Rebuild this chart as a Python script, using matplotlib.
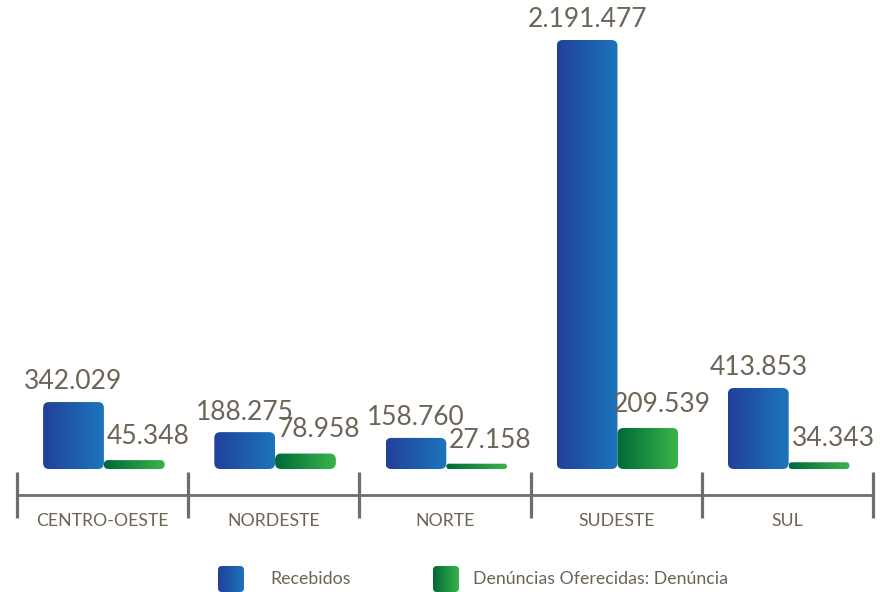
import numpy as np
import matplotlib
matplotlib.use("Agg")
import matplotlib.pyplot as plt
from matplotlib.patches import FancyBboxPatch
from matplotlib.colors import LinearSegmentedColormap

categories = ["CENTRO-OESTE", "NORDESTE", "NORTE", "SUDESTE", "SUL"]
series_names = ["Recebidos", "Denúncias Oferecidas: Denúncia"]
recebidos = [342029, 188275, 158760, 2191477, 413853]
denuncias = [45348, 78958, 27158, 209539, 34343]
value_labels_rec = ["342.029", "188.275", "158.760", "2.191.477", "413.853"]
value_labels_den = ["45.348", "78.958", "27.158", "209.539", "34.343"]

plt.rcParams['font.family'] = ['Lato', 'DejaVu Sans']
TEXT = '#6d6357'
AXC = '#6d6e70'
blue_cmap = LinearSegmentedColormap.from_list('b', ['#22409a', '#1c75bc'])
green_cmap = LinearSegmentedColormap.from_list('g', ['#006838', '#39b54a'])

W, H = 880, 592
fig = plt.figure(figsize=(W / 100, H / 100), dpi=100)
ax = fig.add_axes([17 / W, (H - 495) / H, 856 / W, (495 - 40) / H])

x = np.arange(len(categories))
bw = 0.355
off_b, off_g = -0.17, 0.185
ymax = 2191477
per_px = ymax / 429.0
ylo = -26 * per_px
ax.set_xlim(-0.5, 4.5)
ax.set_ylim(ylo, ymax)

bars_b = ax.bar(x + off_b, recebidos, bw, color='none')
bars_g = ax.bar(x + off_g, denuncias, bw, color='none')

x_per_px = 5.0 / 856
grad = np.linspace(0, 1, 256).reshape(1, -1)


def gradient_bar(rect, cmap):
    x0, y0 = rect.get_x(), rect.get_y()
    w, h = rect.get_width(), rect.get_height()
    h_px = h / per_px
    r_px = min(6.0, h_px / 2.0)
    pad = r_px * x_per_px
    aspect = per_px / x_per_px
    patch = FancyBboxPatch((x0 + pad, y0 + pad * aspect), w - 2 * pad, h - 2 * pad * aspect,
                           boxstyle=f"round,pad={pad},rounding_size={pad}",
                           mutation_aspect=aspect, facecolor='none', edgecolor='none')
    ax.add_patch(patch)
    im = ax.imshow(grad, cmap=cmap, aspect='auto', extent=(x0, x0 + w, y0, y0 + h),
                   interpolation='bilinear', zorder=2)
    im.set_clip_path(patch)


for r in bars_b:
    gradient_bar(r, blue_cmap)
for r in bars_g:
    gradient_bar(r, green_cmap)

ax.set_xlim(-0.5, 4.5)
ax.set_ylim(ylo, ymax)

for i in range(len(categories)):
    ax.annotate(value_labels_rec[i], (x[i] + off_b, recebidos[i]), xytext=(0, 5.5),
                textcoords='offset points', ha='center', va='bottom', fontsize=19,
                color=TEXT, annotation_clip=False)
    ax.annotate(value_labels_den[i], (x[i] + off_g, denuncias[i]), xytext=(10, 8),
                textcoords='offset points', ha='center', va='bottom', fontsize=19,
                color=TEXT, annotation_clip=False)

for s in ['top', 'right', 'left']:
    ax.spines[s].set_visible(False)
ax.spines['bottom'].set_color(AXC)
ax.spines['bottom'].set_linewidth(2.0)
ax.spines['bottom'].set_position(('data', ylo))
ax.set_yticks([])
ax.set_xticks(np.arange(-0.5, 5.0, 1.0))
ax.set_xticklabels([])
ax.tick_params(axis='x', which='major', direction='inout', length=33, width=2.3, color=AXC)
ax.set_xticks(x, minor=True)
ax.set_xticklabels(categories, minor=True)
ax.tick_params(axis='x', which='minor', length=0, pad=13, labelsize=12.7, labelcolor=TEXT)
ax.patch.set_visible(False)


def legend_swatch(px, py, size, cmap):
    sax = fig.add_axes([px / W, (H - py - size) / H, size / W, size / H])
    sax.set_axis_off()
    sax.set_xlim(0, 1)
    sax.set_ylim(0, 1)
    p = FancyBboxPatch((0.12, 0.12), 0.76, 0.76, boxstyle="round,pad=0.12,rounding_size=0.15",
                       transform=sax.transAxes, facecolor='none', edgecolor='none')
    sax.add_patch(p)
    im = sax.imshow(grad, cmap=cmap, aspect='auto', extent=(0, 1, 0, 1), interpolation='bilinear')
    im.set_clip_path(p)


legend_swatch(218, 566, 26, blue_cmap)
legend_swatch(433, 566, 26, green_cmap)
fig.text(270 / W, 1 - 579 / H, series_names[0], ha='left', va='center', fontsize=12.8, color=TEXT)
fig.text(473 / W, 1 - 579 / H, series_names[1], ha='left', va='center', fontsize=12.8, color=TEXT)

fig.savefig('out.png', dpi=100)
